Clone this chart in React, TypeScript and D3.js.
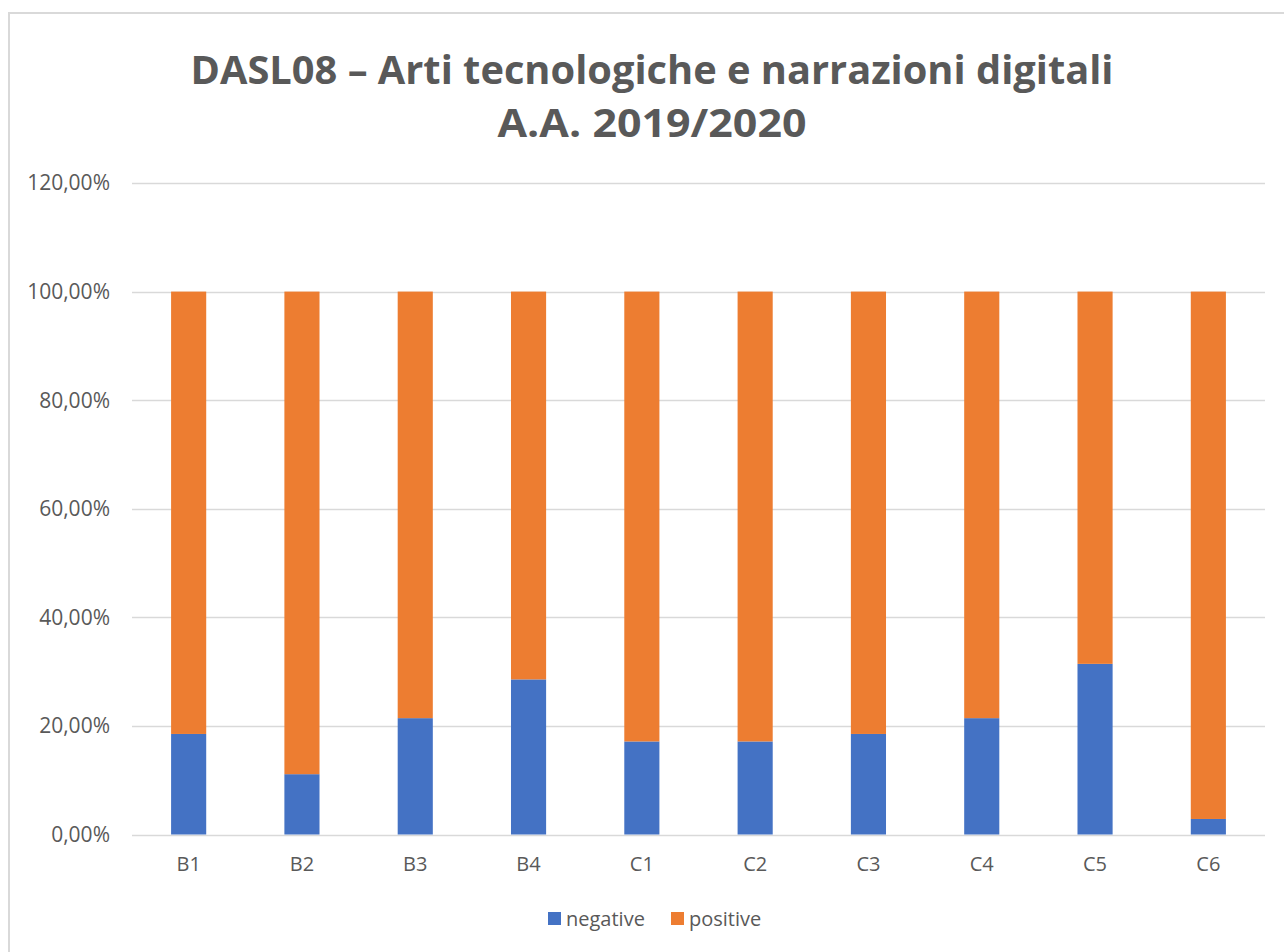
import React from "react";
import * as d3 from "d3";

const categories = ["B1", "B2", "B3", "B4", "C1", "C2", "C3", "C4", "C5", "C6"];
const negative = [0.1852, 0.1111, 0.2143, 0.2857, 0.1714, 0.1714, 0.1852, 0.2143, 0.3143, 0.0286];
const positive = negative.map((v) => 1 - v);
const yTicks = [0, 0.2, 0.4, 0.6, 0.8, 1.0, 1.2];
const seriesNames = ["negative", "positive"];
const colors = ["#4472C4", "#ED7D31"];
const titleLines = ["DASL08 – Arti tecnologiche e narrazioni digitali", "A.A. 2019/2020"];

const W = 1284;
const H = 952;
const FONT = "'Open Sans', 'Noto Sans', sans-serif";

export default function App() {
  const x = d3
    .scaleBand<string>()
    .domain(categories)
    .range([132, 1265])
    .paddingInner(0.69)
    .paddingOuter(0.345);
  const y = d3.scaleLinear().domain([0, 1.2]).range([834.5, 183]);
  const fmt = (v: number) => (v * 100).toFixed(2).replace(".", ",") + "%";

  const rows = categories.map((c, i) => ({ cat: c, negative: negative[i], positive: positive[i] }));
  const stacked = d3.stack<any>().keys(seriesNames)(rows);

  return (
    <svg
      width={W}
      height={H}
      style={{ position: "absolute", left: 0, top: 0, background: "#fff" }}
      fontFamily={FONT}
    >
      <rect x={0} y={0} width={W} height={H} fill="#fff" />
      <path d={`M9,${H} V13 H${W}`} fill="none" stroke="#d9d9d9" strokeWidth={2} />
      <text x={652} y={84} textAnchor="middle" fontSize={40} fontWeight={700} fill="#595959" textLength={923} lengthAdjust="spacingAndGlyphs">
        {titleLines[0]}
      </text>
      <text x={652} y={137} textAnchor="middle" fontSize={40} fontWeight={700} fill="#595959" textLength={309} lengthAdjust="spacingAndGlyphs">
        {titleLines[1]}
      </text>
      {yTicks.map((t) => (
        <g key={t}>
          <line x1={132} x2={1265} y1={Math.round(y(t)) + 0.5} y2={Math.round(y(t)) + 0.5} stroke="#d9d9d9" strokeWidth={1.5} />
          <text x={110} y={y(t)} dy="0.35em" textAnchor="end" fontSize={21} fill="#595959">
            {fmt(t)}
          </text>
        </g>
      ))}
      {stacked.map((s, si) => (
        <g key={s.key} fill={colors[si]}>
          {s.map((d, i) => (
            <rect
              key={i}
              x={x(categories[i])}
              width={x.bandwidth()}
              y={y(d[1])}
              height={y(d[0]) - y(d[1])}
            />
          ))}
        </g>
      ))}
      {categories.map((c) => (
        <text key={c} x={(x(c) as number) + x.bandwidth() / 2} y={864} dy="0.35em" textAnchor="middle" fontSize={20} fill="#595959">
          {c}
        </text>
      ))}
      <g>
        <rect x={548} y={912} width={13} height={13} fill={colors[0]} />
        <text x={566} y={918.5} dy="0.35em" fontSize={20} fill="#595959">{seriesNames[0]}</text>
        <rect x={671} y={912} width={13} height={13} fill={colors[1]} />
        <text x={689} y={918.5} dy="0.35em" fontSize={20} fill="#595959">{seriesNames[1]}</text>
      </g>
    </svg>
  );
}
